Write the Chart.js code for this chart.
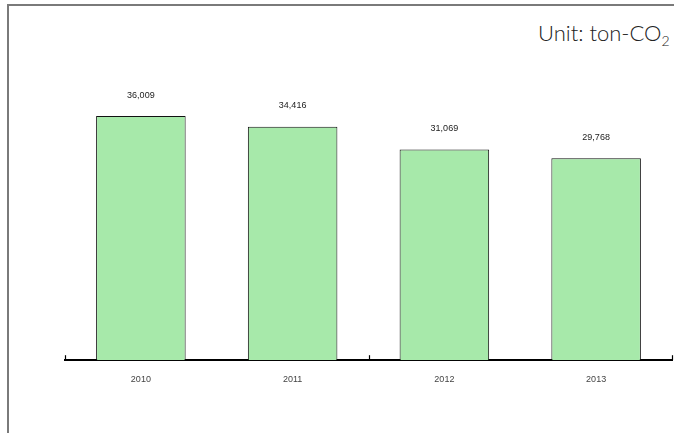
<!DOCTYPE html>
<html lang="en">
<head>
    <meta charset="UTF-8">
    <title>CO2 emissions 2010-2013</title>
    <style>
        body {
            margin: 0;
            padding: 0;
            background: #fff;
            width: 674px;
            height: 433px;
            overflow: hidden;
            position: relative;
        }
        .frame {
            position: absolute;
            left: 7px;
            top: 4px;
            width: 700px;
            height: 460px;
            border-top: 2px solid #7a7a7a;
            border-left: 2px solid #7a7a7a;
        }
        .unit {
            position: absolute;
            left: 538px;
            top: 19px;
            font-family: Lato, "DejaVu Sans", sans-serif;
            font-weight: 300;
            font-size: 22px;
            color: #222;
            white-space: nowrap;
        }
        .unit sub {
            font-size: 14px;
            vertical-align: -5px;
        }
        #chart {
            position: absolute;
            left: 0;
            top: 0;
        }
    </style>
    <script src="https://cdn.jsdelivr.net/npm/chart.js"></script>
</head>
<body>
    <div class="frame"></div>
    <div class="unit">Unit: ton-CO<sub>2</sub></div>
    <canvas id="chart" width="674" height="433"></canvas>

    <script>
        const years = ["2010", "2011", "2012", "2013"];
        const emissions = [36009, 34416, 31069, 29768];

        // value labels above each bar
        const valueLabels = {
            id: "valueLabels",
            afterDatasetsDraw(chart) {
                const ctx = chart.ctx;
                ctx.save();
                ctx.font = "9px 'Liberation Sans', Arial, sans-serif";
                ctx.fillStyle = "#222";
                ctx.textAlign = "center";
                ctx.textBaseline = "middle";
                chart.getDatasetMeta(0).data.forEach((bar, i) => {
                    ctx.fillText(emissions[i].toLocaleString("en-US"), bar.x, bar.y - 21);
                });
                ctx.restore();
            }
        };

        // small upward tick marks at the ends and middle of the axis
        const axisTicks = {
            id: "axisTicks",
            afterDraw(chart) {
                const ctx = chart.ctx;
                const area = chart.chartArea;
                const xs = [area.left, (area.left + area.right) / 2, area.right];
                ctx.save();
                ctx.strokeStyle = "#000";
                ctx.lineWidth = 1.2;
                xs.forEach(x => {
                    ctx.beginPath();
                    ctx.moveTo(Math.round(x) + 0.5, area.bottom);
                    ctx.lineTo(Math.round(x) + 0.5, area.bottom - 5);
                    ctx.stroke();
                });
                ctx.restore();
            }
        };

        new Chart(document.getElementById("chart"), {
            type: "bar",
            data: {
                labels: years,
                datasets: [{
                    data: emissions,
                    backgroundColor: "#a7e9aa",
                    borderColor: "#111",
                    borderWidth: 1,
                    categoryPercentage: 1,
                    barPercentage: 0.59
                }]
            },
            options: {
                responsive: false,
                animation: false,
                events: [],
                layout: {
                    padding: { left: 65, right: 2, top: 89, bottom: 42 }
                },
                plugins: {
                    legend: { display: false },
                    tooltip: { enabled: false }
                },
                scales: {
                    x: {
                        grid: { display: false },
                        border: { display: true, color: "#000", width: 2 },
                        ticks: {
                            color: "#444",
                            padding: 6,
                            font: { family: "'Liberation Sans', Arial, sans-serif", size: 9 }
                        }
                    },
                    y: {
                        display: false,
                        min: 0,
                        max: 40000
                    }
                }
            },
            plugins: [valueLabels, axisTicks]
        });
    </script>
</body>
</html>
